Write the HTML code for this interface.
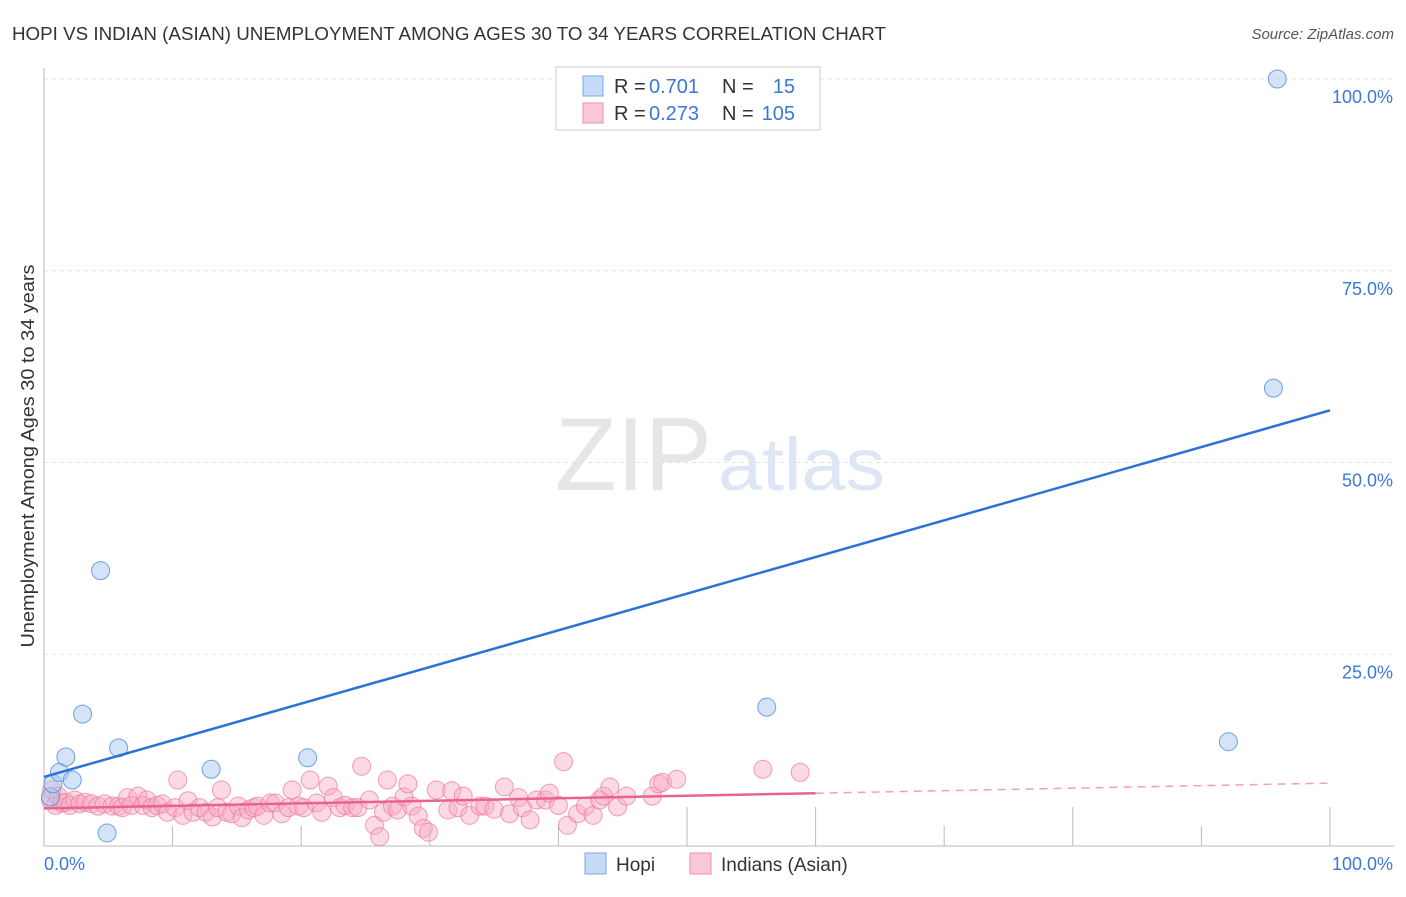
<!DOCTYPE html>
<html><head><meta charset="utf-8"><style>
body{margin:0;background:#fff;font-family:"Liberation Sans",sans-serif}
svg text{font-family:"Liberation Sans",sans-serif}
</style></head><body>
<svg id="c" width="1406" height="892" xmlns="http://www.w3.org/2000/svg">
<text x="12" y="40" font-size="18" fill="#333" textLength="874" lengthAdjust="spacingAndGlyphs">HOPI VS INDIAN (ASIAN) UNEMPLOYMENT AMONG AGES 30 TO 34 YEARS CORRELATION CHART</text>
<text x="1394" y="39" font-size="15" fill="#555" font-style="italic" text-anchor="end">Source: ZipAtlas.com</text>
<text x="555" y="490" font-size="104" fill="#e6e6e6" font-family="Liberation Serif" textLength="157" lengthAdjust="spacingAndGlyphs">ZIP</text>
<text x="718" y="490" font-size="74" fill="#dde6f5" textLength="167" lengthAdjust="spacingAndGlyphs">atlas</text>
<text transform="translate(34,456) rotate(-90)" font-size="18" fill="#333" text-anchor="middle" textLength="383" lengthAdjust="spacingAndGlyphs">Unemployment Among Ages 30 to 34 years</text>
<g id="grid"></g><g id="pts"></g><g id="lines"></g>
<g>
<rect x="556" y="67" width="264" height="63" fill="#fff" stroke="#ccc"/>
<rect x="583" y="76" width="20" height="20" fill="#c6dbf7" stroke="#7aa7e6"/>
<rect x="583" y="103" width="20" height="20" fill="#fac8d8" stroke="#ee8fab"/>
<text x="614" y="93" font-size="20" fill="#333">R =</text>
<text x="649" y="93" font-size="20" fill="#3a78d8">0.701</text>
<text x="722" y="93" font-size="20" fill="#333">N =</text>
<text x="795" y="93" font-size="20" fill="#3a78d8" text-anchor="end">15</text>
<text x="614" y="120" font-size="20" fill="#333">R =</text>
<text x="649" y="120" font-size="20" fill="#3a78d8">0.273</text>
<text x="722" y="120" font-size="20" fill="#333">N =</text>
<text x="795" y="120" font-size="20" fill="#3a78d8" text-anchor="end">105</text>
</g>
<g>
<rect x="585" y="853" width="21" height="21" fill="#c6dbf7" stroke="#7aa7e6"/>
<text x="616" y="871" font-size="19" fill="#333">Hopi</text>
<rect x="690" y="853" width="21" height="21" fill="#fac8d8" stroke="#ee8fab"/>
<text x="721" y="871" font-size="19" fill="#333">Indians (Asian)</text>
</g>
<text x="44" y="870" font-size="18" fill="#3a78d8">0.0%</text>
<text x="1393" y="870" font-size="18" fill="#3a78d8" text-anchor="end">100.0%</text>
</svg>
<script>
const yTicks=[25,50,75,100];
const xTicks=[10,20,30,40,50,60,70,80,90,100];
const hopiX=[0.5,0.7,1.2,1.7,2.2,3.0,4.4,4.9,5.8,13.0,20.5,56.2,92.1,95.6,95.9];
const hopiY=[6.4,8.1,9.6,11.6,8.6,17.2,35.9,1.7,12.8,10.0,11.5,18.1,13.6,59.7,100];
const indX=[0.5,0.6,0.9,1.1,1.4,1.7,2.0,2.4,2.8,3.2,3.7,4.2,4.7,5.3,5.8,6.1,6.5,6.8,7.3,7.7,8.0,8.4,8.8,9.2,9.6,10.2,10.4,10.8,11.2,11.6,12.1,12.6,13.1,13.5,13.8,14.2,14.6,15.1,15.4,15.9,16.3,16.6,17.1,17.6,18.0,18.5,19.0,19.3,19.8,20.2,20.7,21.2,21.6,22.1,22.5,23.0,23.4,24.0,24.4,24.7,25.3,25.7,26.1,26.4,26.7,27.1,27.5,28.0,28.3,28.6,29.1,29.5,29.9,30.5,31.4,31.7,32.2,32.6,33.1,33.9,34.3,35.0,35.8,36.2,36.9,37.2,37.8,38.3,39.0,39.3,40.0,40.7,41.5,42.1,42.7,43.2,43.5,44.0,44.6,45.3,47.3,47.8,48.1,49.2,55.9,58.8,40.4];
const indY=[6.0,7.3,5.3,6.5,5.6,5.7,5.3,6.0,5.5,5.7,5.5,5.2,5.5,5.2,5.2,5.0,6.3,5.3,6.5,5.3,6.0,5.0,5.3,5.5,4.4,5.0,8.6,4.0,5.9,4.4,5.0,4.4,3.8,5.0,7.3,4.4,4.2,5.2,3.7,4.7,5.0,5.2,4.0,5.6,5.6,4.2,5.0,7.3,5.2,5.0,8.6,5.6,4.4,7.8,6.3,5.0,5.3,5.0,5.0,10.4,6.0,2.7,1.2,4.4,8.6,5.2,4.7,6.4,8.1,5.2,3.9,2.3,1.8,7.3,4.7,7.2,5.0,6.5,4.0,5.2,5.2,4.8,7.7,4.2,6.3,5.0,3.4,6.0,6.0,6.9,5.3,2.7,4.2,5.2,4.0,6.0,6.5,7.7,5.1,6.5,6.5,8.1,8.3,8.7,10.0,9.6,11.0];
const hopiFit=[9.0,56.8];
const indFit=[4.9,8.2];
const indSolidEnd=60;
const NS="http://www.w3.org/2000/svg";
const X=v=>44+v*12.86, Y=v=>846-v*7.67;
function mk(t,a,p){const e=document.createElementNS(NS,t);for(const k in a)e.setAttribute(k,a[k]);p.appendChild(e);return e;}
const grid=document.getElementById('grid');
yTicks.forEach(t=>{
 const l=mk('line',{x1:44,x2:1394,y1:Y(t),y2:Y(t),stroke:'#e2e2e2','stroke-dasharray':'4,4'},grid);
 
 
 const tx=mk('text',{x:1393,y:Y(t)+24,'font-size':18,fill:'#3a78d8','text-anchor':'end'},grid);
 tx.textContent=t.toFixed(1)+'%';
 
 
});
const ax=mk('line',{x1:44,x2:44,y1:68,y2:846,stroke:'#bbb'},grid);


const bx=mk('line',{x1:44,x2:1394,y1:846,y2:846,stroke:'#bbb'},grid);


xTicks.forEach(t=>{
 const tall=[50,60,80,100].includes(t);
 const l=mk('line',{x1:X(t),x2:X(t),y1:tall?807:826,y2:846,stroke:'#bbb'},grid);
 
 
});
const pts=document.getElementById('pts');
indX.forEach((x,i)=>{
 const c=mk('circle',{cx:X(x),cy:Y(indY[i]),r:9,fill:'rgba(248,170,196,0.45)',stroke:'rgba(236,120,155,0.7)','stroke-width':1},pts);
 
 
});
hopiX.forEach((x,i)=>{
 const c=mk('circle',{cx:X(x),cy:Y(hopiY[i]),r:9,fill:'rgba(170,200,240,0.5)',stroke:'rgba(80,140,220,0.8)','stroke-width':1},pts);
 
 
});
const lines=document.getElementById('lines');
const hl=mk('line',{x1:X(0),y1:Y(hopiFit[0]),x2:X(100),y2:Y(hopiFit[1]),stroke:'#2a72d8','stroke-width':2.5},lines);


const iy=x=>indFit[0]+(indFit[1]-indFit[0])*x/100;
const il=mk('line',{x1:X(0),y1:Y(iy(0)),x2:X(indSolidEnd),y2:Y(iy(indSolidEnd)),stroke:'#e8648e','stroke-width':2.5},lines);


const id=mk('line',{x1:X(indSolidEnd),y1:Y(iy(indSolidEnd)),x2:X(100),y2:Y(iy(100)),stroke:'#f0a0b8','stroke-width':1.5,'stroke-dasharray':'8,6'},lines);


</script>
</body></html>
